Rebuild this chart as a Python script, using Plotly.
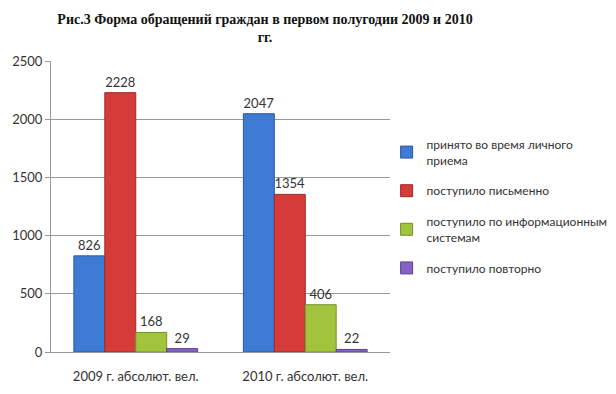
import plotly.graph_objects as go

categories = ["2009 г. абсолют. вел.", "2010 г. абсолют. вел."]
series_names = [
    "принято во время личного<br>приема",
    "поступило письменно",
    "поступило по информационным<br>системам",
    "поступило повторно",
]
series_values = [
    [826, 2047],
    [2228, 1354],
    [168, 406],
    [29, 22],
]
colors = ["#3d7bd4", "#d53b39", "#a2c43c", "#8463c4"]
line_colors = ["#2a5a9e", "#9e2a28", "#73902a", "#5c4290"]

fig = go.Figure()
for i, (name, vals) in enumerate(zip(series_names, series_values)):
    fig.add_trace(go.Bar(
        x=categories, y=vals, name=name,
        marker=dict(color=colors[i], line=dict(color=line_colors[i], width=1)),
        text=[str(v) for v in vals], textposition="outside",
        textfont=dict(size=13, color="#333333"),
        constraintext="none",
        cliponaxis=False, legendgroup=f"g{i}",
    ))

# page body has an 8px default margin; figure is sized to fill the rest
fig.update_layout(
    width=608, height=386,
    margin=dict(l=43, r=226, t=53, b=42, autoexpand=False),
    paper_bgcolor="white", plot_bgcolor="white",
    barmode="group", bargap=0.27, bargroupgap=0,
    font=dict(family="Lato, Open Sans, sans-serif", size=13, color="#333333"),
    title=dict(
        text="Рис.3 Форма обращений граждан в первом полугодии 2009 и 2010<br>гг.",
        x=0.4227, xanchor="center", y=0.9585, yanchor="middle",
        font=dict(family="Liberation Serif, serif", size=14, color="#111111", weight="bold"),
    ),
    legend=dict(
        x=0.99, xanchor="left", y=0.5, yanchor="middle",
        font=dict(size=12, color="#333333"),
        tracegroupgap=12, itemwidth=30,
        bgcolor="rgba(0,0,0,0)",
    ),
    showlegend=True,
)
fig.update_yaxes(
    range=[0, 2500], dtick=500, showgrid=True, gridcolor="#9a9a9a", gridwidth=1,
    showline=True, linecolor="#9a9a9a", ticks="outside", ticklen=5, tickcolor="#9a9a9a",
    zeroline=False, tickfont=dict(size=13, color="#333333"),
)
fig.update_xaxes(
    showline=True, linecolor="#9a9a9a", ticks="", tickfont=dict(size=13, color="#333333"),
    ticklabelstandoff=12,
)

fig.write_html("out.html")
